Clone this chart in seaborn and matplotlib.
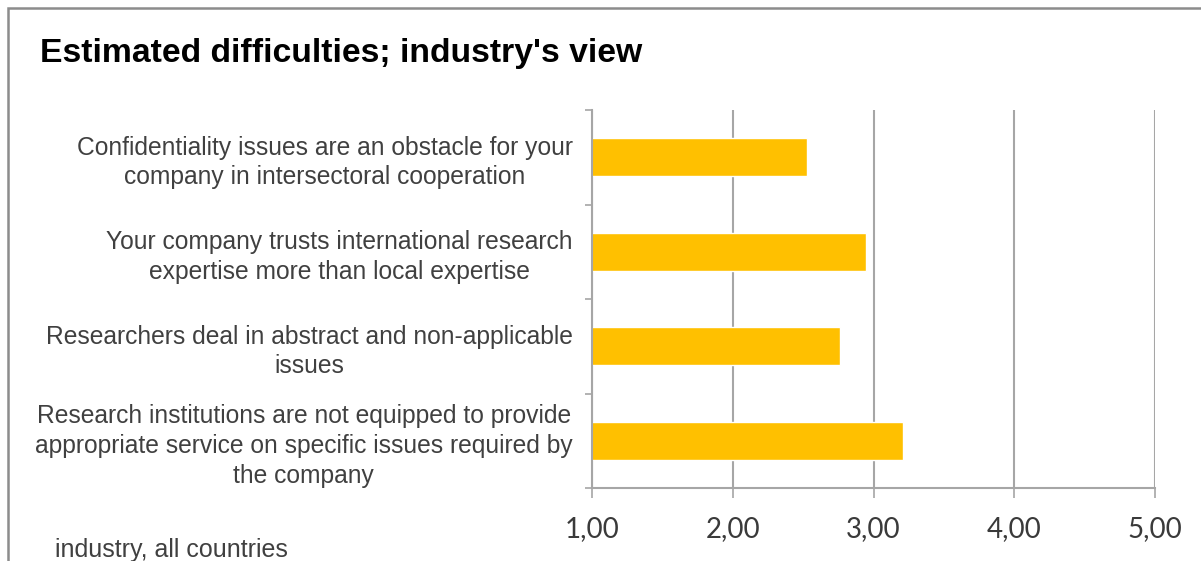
import matplotlib
matplotlib.use("Agg")
import matplotlib.pyplot as plt
import seaborn as sns
import pandas as pd
from matplotlib.patches import Rectangle

categories = [
    "Confidentiality issues are an obstacle for your\ncompany in intersectoral cooperation",
    "Your company trusts international research\nexpertise more than local expertise",
    "Researchers deal in abstract and non-applicable\nissues",
    "Research institutions are not equipped to provide\nappropriate service on specific issues required by\nthe company",
]
values = [2.53, 2.95, 2.76, 3.21]
x_ticks = [1, 2, 3, 4, 5]
x_tick_labels = ["1,00", "2,00", "3,00", "4,00", "5,00"]
title = "Estimated difficulties; industry's view"
note = "industry, all countries"

sns.set_theme(style="white")
plt.rcParams["font.family"] = ["Liberation Sans", "DejaVu Sans"]

W, H = 1201, 561
fig = plt.figure(figsize=(W / 100, H / 100), dpi=100)
fig.patch.set_facecolor("white")

# outer chart frame
fig.patches.append(Rectangle((8 / W, -0.1), 1.2, (H - 8) / H + 0.1,
                             transform=fig.transFigure, fill=False,
                             edgecolor="#8c8c8c", linewidth=1.8))

ax = fig.add_axes([592 / W, 1 - 488 / H, (1155 - 592) / W, (488 - 110) / H])
df = pd.DataFrame({"cat": categories, "val": values})
sns.barplot(data=df, y="cat", x="val", orient="h", color="#FFC000",
            saturation=1, width=0.4, ax=ax)

ax.set_xlim(1, 5)
ax.set_ylim(3.5, -0.5)
ax.set_xlabel("")
ax.set_ylabel("")

for s in ["top", "right"]:
    ax.spines[s].set_visible(False)
for s in ["left", "bottom"]:
    ax.spines[s].set_color("#a6a6a6")
    ax.spines[s].set_linewidth(1.5)

ax.set_xticks(x_ticks)
ax.set_xticklabels(x_tick_labels, fontfamily="Lato", fontsize=20, color="#3a3a3a")
ax.tick_params(axis="x", length=7.5, width=1.2, color="#a6a6a6", pad=13, bottom=True)
ax.xaxis.grid(True, color="#a6a6a6", linewidth=1.5)
ax.set_axisbelow(True)

ax.set_yticks(range(len(categories)))
ax.set_yticklabels(categories, fontsize=17.7, color="#404040",
                   multialignment="center", linespacing=1.3)
ax.tick_params(axis="y", which="major", length=0, pad=14)
ax.set_yticks([-0.5, 0.5, 1.5, 2.5, 3.5], minor=True)
ax.tick_params(axis="y", which="minor", length=5, width=1.2, color="#a6a6a6", left=True)

fig.text(40 / W, 1 - 62 / H, title, fontsize=24.3, fontweight="bold",
         color="black", ha="left", va="baseline")
fig.text(55 / W, 1 - 557 / H, note, fontsize=18, color="#404040",
         ha="left", va="baseline")

fig.savefig("out.png", dpi=100, facecolor="white")
